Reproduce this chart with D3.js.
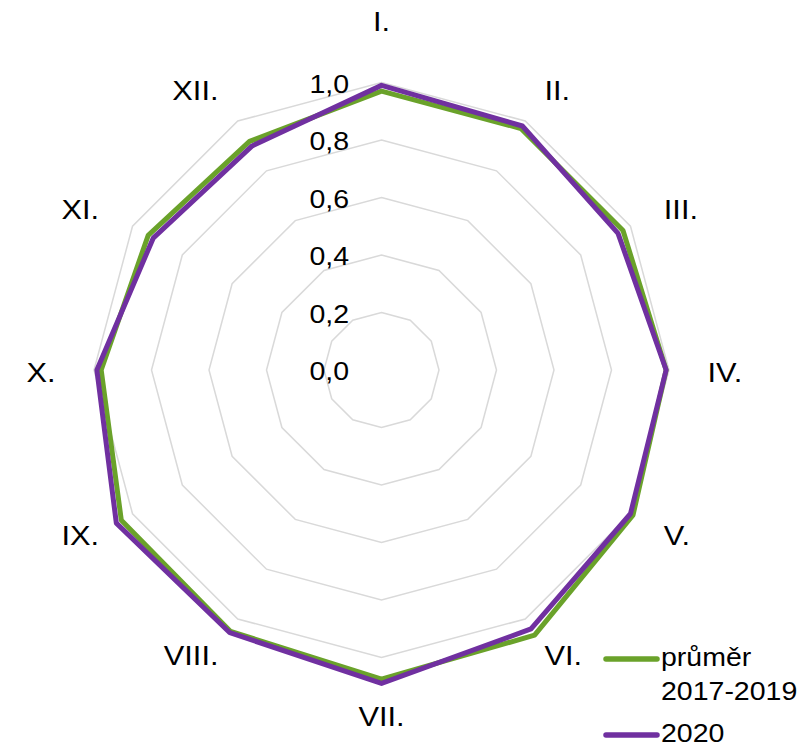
<!DOCTYPE html>
<html lang="cs">
<head>
    <meta charset="UTF-8">
    <title>radar</title>
    <script src="https://d3js.org/d3.v7.min.js"></script>
    <style>
        html, body {
            margin: 0;
            padding: 0;
            background: white;
            font-family: "Liberation Sans", Arial, sans-serif;
        }
    </style>
</head>
<body>
<script>
    // měsíce
    const months = ["I.", "II.", "III.", "IV.", "V.", "VI.", "VII.", "VIII.", "IX.", "X.", "XI.", "XII."];
    // průměr 2017-2019
    const avgValues = [0.97, 0.97, 0.97, 0.99, 1.01, 1.065, 1.075, 1.05, 1.045, 0.975, 0.937, 0.918];
    // rok 2020
    const values2020 = [0.99, 0.98, 0.95, 0.99, 1.0, 1.04, 1.09, 1.055, 1.065, 0.99, 0.917, 0.90];
    const ticks = [0, 0.2, 0.4, 0.6, 0.8, 1.0];
    const seriesNames = ["průměr\n2017-2019", "2020"];
    const seriesColors = ["#6aa22a", "#7030a0"];

    const width = 807, height = 747;
    const cx = 381.5, cy = 370;
    const stretch = 1.14; // písmo v předloze je širší

    const svg = d3.select("body").append("svg")
        .attr("width", width)
        .attr("height", height);

    const r = d3.scaleLinear().domain([0, 1]).range([0, 287.5]);
    const angle = d3.scalePoint().domain(months).range([0, 2 * Math.PI * 11 / 12]);

    const pt = (m, v) => {
        const a = angle(m);
        return [cx + r(v) * Math.sin(a), cy - r(v) * Math.cos(a)];
    };

    // mřížka
    svg.append("g")
        .selectAll("path")
        .data(ticks.slice(1))
        .join("path")
        .attr("d", t => d3.line()(months.map(m => pt(m, t))) + "Z")
        .attr("fill", "none")
        .attr("stroke", "#d9d9d9")
        .attr("stroke-width", 1.5);

    // popisky osy
    svg.append("g")
        .selectAll("text")
        .data(ticks)
        .join("text")
        .attr("transform", t => `translate(349,${cy - r(t) + 2}) scale(${stretch},1)`)
        .attr("text-anchor", "end")
        .attr("dominant-baseline", "central")
        .style("font-size", "25px")
        .text(t => d3.format(".1f")(t).replace(".", ","));

    // řady
    const lineGen = vals => d3.line()(months.map((m, i) => pt(m, vals[i]))) + "Z";
    svg.append("g")
        .selectAll("path")
        .data([avgValues, values2020])
        .join("path")
        .attr("d", d => lineGen(d))
        .attr("fill", "none")
        .attr("stroke", (d, i) => seriesColors[i])
        .attr("stroke-width", 5)
        .attr("stroke-linejoin", "round");

    // popisky měsíců - rámeček se dotýká kružnice
    const labelR = 326;
    svg.append("g")
        .selectAll("text")
        .data(months)
        .join("text")
        .attr("transform", m => {
            const a = angle(m), s = Math.sin(a), c = Math.cos(a);
            const x = cx + labelR * s;
            let y = cy - labelR * c + 3;
            if (Math.abs(s) < 0.01) y += -c * 21.5 - 3.5;
            return `translate(${x},${y}) scale(${stretch},1)`;
        })
        .attr("text-anchor", m => {
            const s = Math.sin(angle(m));
            return s > 0.01 ? "start" : s < -0.01 ? "end" : "middle";
        })
        .attr("dominant-baseline", "central")
        .style("font-size", "27px")
        .text(m => m);

    // legenda
    const legend = svg.append("g");
    const legendY = [659, 735];
    seriesNames.forEach((name, i) => {
        legend.append("line")
            .attr("x1", 606).attr("x2", 657)
            .attr("y1", legendY[i]).attr("y2", legendY[i])
            .attr("stroke", seriesColors[i])
            .attr("stroke-width", 5.5)
            .attr("stroke-linecap", "round");
        const txt = legend.append("text")
            .attr("transform", `translate(661,${legendY[i] + 7}) scale(${stretch},1)`)
            .style("font-size", "25px");
        name.split("\n").forEach((line, j) => {
            txt.append("tspan")
                .attr("x", 0)
                .attr("dy", j === 0 ? 0 : 34)
                .text(line);
        });
    });
</script>
</body>
</html>
